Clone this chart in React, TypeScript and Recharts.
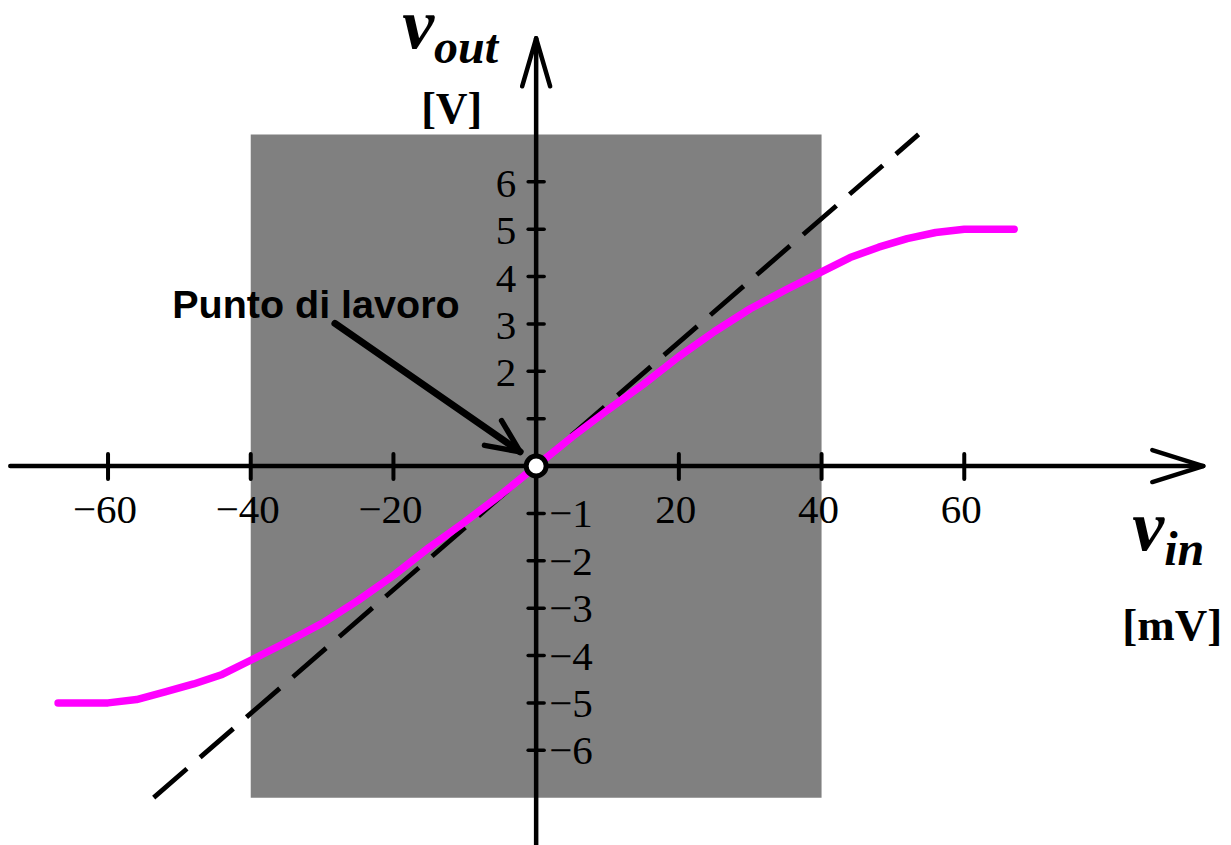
import React from 'react';
import {
  ComposedChart,
  Line,
  XAxis,
  YAxis,
  ReferenceArea,
  ReferenceLine,
  ReferenceDot,
} from 'recharts';

// Transfer characteristic of the amplifier: input voltage (mV) -> output voltage (V)
const vinValues = [-67, -60, -56, -52, -48, -44, -40, -35, -30, -25, -20, -15, -10, -5, 0, 5, 10, 15, 20, 25, 30, 35, 40, 44, 48, 52, 56, 60, 67];
const voutValues = [-5, -5, -4.93, -4.77, -4.6, -4.4, -4.1, -3.72, -3.32, -2.84, -2.31, -1.72, -1.18, -0.61, 0, 0.61, 1.18, 1.72, 2.31, 2.84, 3.32, 3.72, 4.1, 4.4, 4.62, 4.8, 4.93, 5, 5];

// Ideal linear gain (small-signal tangent through the operating point)
const linearVin = [-53.6, 53.6];
const linearVout = [-7, 7];

// Operating point
const workPoint = { vin: 0, vout: 0 };

// Shaded region of linear operation
const regionVin = [-40, 40];
const regionVout = [-7, 7];

// Axis extents (arrow tips at the end)
const xAxisExtent = [-73.7, 93.5];
const yAxisExtent = [-8.1, 9.03];

// Tick values and labels
const xTickValues = [-60, -40, -20, 20, 40, 60];
const xTickLabels = ['\u221260', '\u221240', '\u221220', '20', '40', '60'];
const yTickValues = [-6, -5, -4, -3, -2, -1, 1, 2, 3, 4, 5, 6];
const yTickLabels = ['\u22126', '\u22125', '\u22124', '\u22123', '\u22122', '\u22121', '', '2', '3', '4', '5', '6'];

// Annotation arrow (start -> tip) in data units
const noteStart = { vin: -28.2, vout: 3.01 };
const noteTip = { vin: -2.24, vout: 0.3 };
const noteText = 'Punto di lavoro';

const curveData = vinValues.map((v, i) => ({ vin: v, vout: voutValues[i] }));
const linearData = linearVin.map((v, i) => ({ vin: v, vout: linearVout[i] }));

const SERIF = '"Liberation Serif", "Times New Roman", Times, serif';
const SANS = '"Liberation Sans", Arial, Helvetica, sans-serif';
const TICK_FONT = 41;

type ArrowOpts = { len: number; half: number; width: number; headWidth: number };

function arrowShape(opts: ArrowOpts, extra?: (x1: number, y1: number, x2: number, y2: number) => React.ReactNode) {
  return (props: any) => {
    const { x1, y1, x2, y2 } = props;
    if ([x1, y1, x2, y2].some((v) => typeof v !== 'number' || Number.isNaN(v))) return <g />;
    const dx = x2 - x1;
    const dy = y2 - y1;
    const d = Math.hypot(dx, dy) || 1;
    const ux = dx / d;
    const uy = dy / d;
    const px = -uy;
    const py = ux;
    const bx = x2 - ux * opts.len;
    const by = y2 - uy * opts.len;
    return (
      <g>
        <line x1={x1} y1={y1} x2={x2} y2={y2} stroke="#000" strokeWidth={opts.width} strokeLinecap="round" />
        <polyline
          points={`${bx + px * opts.half},${by + py * opts.half} ${x2},${y2} ${bx - px * opts.half},${by - py * opts.half}`}
          fill="none"
          stroke="#000"
          strokeWidth={opts.headWidth}
          strokeLinecap="round"
          strokeLinejoin="round"
        />
        {extra ? extra(x1, y1, x2, y2) : null}
      </g>
    );
  };
}

const xAxisShape = arrowShape({ len: 51, half: 16, width: 4.5, headWidth: 4.5 }, (_x1, _y1, x2, y2) => (
  <g fontFamily={SERIF} fontWeight="bold" fill="#000">
    <text x={x2 - 71} y={y2 + 84} fontSize={72} fontStyle="italic">
      v<tspan dy={15} fontSize={48}>in</tspan>
    </text>
    <text x={x2 - 81} y={y2 + 174} fontSize={45}>[mV]</text>
  </g>
));

const yAxisShape = arrowShape({ len: 48, half: 14, width: 4.5, headWidth: 4.5 }, (_x1, _y1, x2, y2) => (
  <g fontFamily={SERIF} fontWeight="bold" fill="#000">
    <text x={x2 - 134} y={y2 + 10} fontSize={72} fontStyle="italic">
      v<tspan dy={15} fontSize={48}>out</tspan>
    </text>
    <text x={x2 - 115} y={y2 + 85} fontSize={44}>[V]</text>
  </g>
));

const noteShape = arrowShape({ len: 33, half: 15, width: 7, headWidth: 5.5 }, (x1, y1) => (
  <text x={x1 - 19} y={y1 - 5} textAnchor="middle" fontFamily={SANS} fontWeight="bold" fontSize={39.5} fill="#000">
    {noteText}
  </text>
));

function xTickShape(label: string) {
  return (props: any) => {
    const { cx, cy } = props;
    return (
      <g>
        <line x1={cx} x2={cx} y1={cy - 12} y2={cy + 13} stroke="#000" strokeWidth={4} strokeLinecap="round" />
        <text x={cx - 3} y={cy + 57} textAnchor="middle" fontFamily={SERIF} fontSize={TICK_FONT} fill="#000">
          {label}
        </text>
      </g>
    );
  };
}

function yTickShape(label: string, value: number) {
  return (props: any) => {
    const { cx, cy } = props;
    return (
      <g>
        <line x1={cx - 8} x2={cx + 8} y1={cy} y2={cy} stroke="#000" strokeWidth={3.5} strokeLinecap="round" />
        {label ? (
          value > 0 ? (
            <text x={cx - 20} y={cy + 15} textAnchor="end" fontFamily={SERIF} fontSize={TICK_FONT} fill="#000">
              {label}
            </text>
          ) : (
            <text x={cx + 13} y={cy + 14} textAnchor="start" fontFamily={SERIF} fontSize={TICK_FONT} fill="#000">
              {label}
            </text>
          )
        ) : null}
      </g>
    );
  };
}

export default function App() {
  return (
    <div style={{ width: 1231, height: 845, background: '#fff' }}>
      <style>{'body{margin:0;}'}</style>
      <ComposedChart width={1231} height={845} margin={{ top: 16, right: 17, bottom: 0, left: 1 }}>
        <XAxis type="number" dataKey="vin" domain={[-75, 95]} hide allowDataOverflow />
        <YAxis type="number" dataKey="vout" domain={[-8, 9.5]} hide allowDataOverflow />

        <ReferenceArea
          x1={regionVin[0]}
          x2={regionVin[1]}
          y1={regionVout[0]}
          y2={regionVout[1]}
          fill="#808080"
          fillOpacity={1}
          stroke="none"
          ifOverflow="visible"
        />

        <Line
          data={linearData}
          dataKey="vout"
          type="linear"
          stroke="#000"
          strokeWidth={4.8}
          strokeDasharray="44 17.4"
          dot={false}
          activeDot={false}
          isAnimationActive={false}
        />

        <ReferenceLine
          segment={[
            { x: xAxisExtent[0], y: 0 },
            { x: xAxisExtent[1], y: 0 },
          ]}
          shape={xAxisShape}
          ifOverflow="visible"
        />
        <ReferenceLine
          segment={[
            { x: 0, y: yAxisExtent[0] },
            { x: 0, y: yAxisExtent[1] },
          ]}
          shape={yAxisShape}
          ifOverflow="visible"
        />

        {xTickValues.map((v, i) => (
          <ReferenceDot key={`xt${v}`} x={v} y={0} r={1} shape={xTickShape(xTickLabels[i])} ifOverflow="visible" />
        ))}
        {yTickValues.map((v, i) => (
          <ReferenceDot key={`yt${v}`} x={0} y={v} r={1} shape={yTickShape(yTickLabels[i], v)} ifOverflow="visible" />
        ))}

        <Line
          data={curveData}
          dataKey="vout"
          type="linear"
          stroke="#ff00ff"
          strokeWidth={7.5}
          strokeLinecap="round"
          strokeLinejoin="round"
          dot={false}
          activeDot={false}
          isAnimationActive={false}
        />

        <ReferenceLine
          segment={[
            { x: noteStart.vin, y: noteStart.vout },
            { x: noteTip.vin, y: noteTip.vout },
          ]}
          shape={noteShape}
          ifOverflow="visible"
        />

        <ReferenceDot
          x={workPoint.vin}
          y={workPoint.vout}
          r={10}
          fill="#fff"
          stroke="#000"
          strokeWidth={5}
          ifOverflow="visible"
        />
      </ComposedChart>
    </div>
  );
}
